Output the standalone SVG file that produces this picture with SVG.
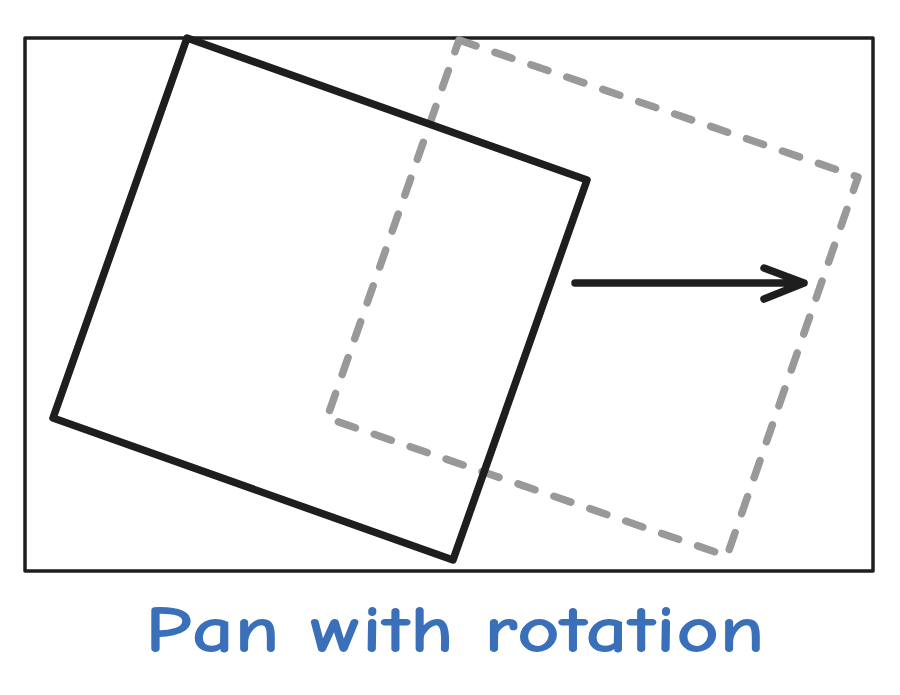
<svg xmlns="http://www.w3.org/2000/svg" width="900" height="695" viewBox="0 0 900 695">
<style>
.frame{fill:none;stroke:#1e1e1e;stroke-width:3.5;stroke-linejoin:round}
.solid{fill:none;stroke:#1e1e1e;stroke-width:7.5;stroke-linejoin:round;stroke-linecap:round}
.dashed{fill:none;stroke:#999999;stroke-width:7.5;stroke-dasharray:18 20;stroke-linecap:round;stroke-linejoin:round}
.label{font-family:"Comic Neue","DejaVu Sans","Liberation Sans",sans-serif;font-size:66px;font-weight:bold;fill:#3a6fba}
</style>
<rect width="900" height="695" fill="#ffffff"/>
<g id="frame"><rect class="frame" x="25" y="38" width="848" height="533"/></g>
<g id="ghost"><polygon class="dashed" points="459,40 858,177 727,556 327,418"/></g>
<g id="square"><polygon class="solid" points="187,38 587,180 453,560 53,418"/></g>
<g id="connectors">
<path class="solid" d="M575,283 L804,283 M764,268 L804,283 L764,299"/>
</g>
<g id="caption"><text class="label" x="145" y="652" textLength="620" lengthAdjust="spacingAndGlyphs">Pan with rotation</text></g>
</svg>
